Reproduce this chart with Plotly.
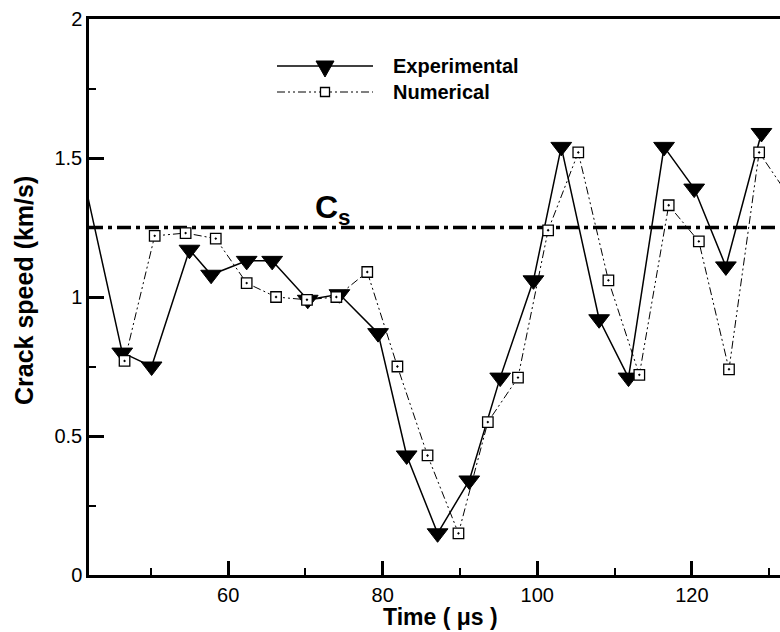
import plotly.graph_objects as go

# ---- data ----
exp_time = [40.5, 46.3, 50.1, 55.0, 57.8, 62.4, 65.7, 70.3, 74.4, 79.4, 83.1, 87.1,
            91.2, 95.2, 99.5, 103.1, 108.0, 111.8, 116.4, 120.3, 124.4, 129.0]
exp_speed = [1.53, 0.80, 0.75, 1.17, 1.08, 1.13, 1.13, 0.99, 1.01, 0.87, 0.43, 0.15,
             0.34, 0.71, 1.06, 1.54, 0.92, 0.71, 1.54, 1.39, 1.11, 1.59]

num_time = [46.6, 50.5, 54.5, 58.4, 62.4, 66.2, 70.2, 74.0, 78.0, 81.9, 85.8, 89.8,
            93.6, 97.5, 101.4, 105.3, 109.2, 113.2, 117.0, 120.9, 124.8, 128.7, 132.6]
num_speed = [0.77, 1.22, 1.23, 1.21, 1.05, 1.00, 0.99, 1.00, 1.09, 0.75, 0.43, 0.15,
             0.55, 0.71, 1.24, 1.52, 1.06, 0.72, 1.33, 1.20, 0.74, 1.52, 1.36]

cs_value = 1.25
x_range = [42, 131.4]
y_range = [0, 2]
x_ticks = [60, 80, 100, 120]
y_ticks = [0, 0.5, 1, 1.5, 2]
series_names = ["Experimental", "Numerical"]

FONT = "Liberation Sans, Arial, Helvetica, sans-serif"
NUM_DASH = "8px,3px,2px,3px,2px,3px"

# layout geometry (pixels)
W, H = 780, 632
L, T, B = 89, 19, 57
R = 0
PW = W - L - R
PH = H - T - B


def px(xp):
    return (xp - L) / PW


def py(yp):
    return (H - B - yp) / PH


fig = go.Figure()

fig.add_trace(go.Scatter(
    x=exp_time, y=exp_speed, mode="lines+markers", name=series_names[0],
    line=dict(color="black", width=1.5),
    marker=dict(symbol="triangle-down", size=18, color="black",
                line=dict(color="black", width=1)),
    showlegend=False,
))
fig.add_trace(go.Scatter(
    x=num_time, y=num_speed, mode="lines+markers", name=series_names[1],
    line=dict(color="black", width=1, dash=NUM_DASH),
    marker=dict(symbol="square-dot", size=10.5, color="white",
                line=dict(color="black", width=1.3)),
    showlegend=False,
))

shapes = []
# Cs reference line
shapes.append(dict(type="line", xref="paper", yref="y", x0=0, x1=1, y0=cs_value, y1=cs_value,
                   line=dict(color="black", width=3.5, dash="14px,5px,4px,5px"), layer="below"))

# manual legend
leg_x0, leg_x1, leg_mx = 277, 373, 325
leg_y = [66, 92]
shapes.append(dict(type="line", xref="paper", yref="paper",
                   x0=px(leg_x0), x1=px(leg_x1), y0=py(leg_y[0]), y1=py(leg_y[0]),
                   line=dict(color="black", width=1.5)))
shapes.append(dict(type="line", xref="paper", yref="paper",
                   x0=px(leg_x0), x1=px(leg_x1), y0=py(leg_y[1]), y1=py(leg_y[1]),
                   line=dict(color="black", width=1, dash=NUM_DASH)))
# triangle marker
tw = 9
shapes.append(dict(type="path", xref="paper", yref="paper",
                   path=f"M {px(leg_mx - tw)} {py(leg_y[0] - 5)} L {px(leg_mx + tw)} {py(leg_y[0] - 5)} "
                        f"L {px(leg_mx)} {py(leg_y[0] + 11)} Z",
                   fillcolor="black", line=dict(color="black", width=1)))
# square marker
sq = 4.5
shapes.append(dict(type="rect", xref="paper", yref="paper",
                   x0=px(leg_mx - sq), x1=px(leg_mx + sq), y0=py(leg_y[1] + sq), y1=py(leg_y[1] - sq),
                   fillcolor="white", line=dict(color="black", width=1.3)))

annotations = []
for name, yy in zip(series_names, leg_y):
    annotations.append(dict(text=f"<b>{name}</b>", xref="paper", yref="paper",
                            x=px(391), y=py(yy), xanchor="left", yanchor="middle",
                            showarrow=False, font=dict(family=FONT, size=20, color="black")))
# Cs label
annotations.append(dict(text="<b>C<sub>s</sub></b>", xref="paper", yref="paper",
                        x=px(333), y=py(210), xanchor="center", yanchor="middle",
                        showarrow=False, font=dict(family=FONT, size=32, color="black")))
# axis titles
annotations.append(dict(text="<b>Time ( μs )</b>", xref="paper", yref="paper",
                        x=px(440), y=py(617), xanchor="center", yanchor="middle",
                        showarrow=False, font=dict(family=FONT, size=23, color="black")))
annotations.append(dict(text="<b>Crack speed (km/s)</b>", xref="paper", yref="paper",
                        x=px(24), y=py(291), xanchor="center", yanchor="middle", textangle=-90,
                        showarrow=False, font=dict(family=FONT, size=25, color="black")))

fig.update_layout(
    width=W, height=H,
    margin=dict(l=L, r=R, t=T, b=B, pad=0),
    paper_bgcolor="white", plot_bgcolor="white",
    shapes=shapes, annotations=annotations,
    showlegend=False,
)

fig.update_xaxes(
    range=x_range, showline=True, linewidth=3, linecolor="black", mirror=True,
    ticks="inside", ticklen=14, tickwidth=3, tickcolor="black",
    tickvals=x_ticks, ticktext=[str(v) for v in x_ticks],
    showgrid=False, zeroline=False,
    tickfont=dict(family=FONT, size=20, color="black"),
    minor=dict(ticks="inside", ticklen=7, tickwidth=1.5, tickcolor="black", dtick=10, tick0=0, showgrid=False),
)
fig.update_yaxes(
    range=y_range, showline=True, linewidth=2.5, linecolor="black", mirror=False,
    ticks="inside", ticklen=15, tickwidth=3, tickcolor="black",
    tickvals=y_ticks, ticktext=["0", "0.5", "1", "1.5", "2"],
    showgrid=False, zeroline=False,
    tickfont=dict(family=FONT, size=20, color="black"),
    minor=dict(ticks="inside", ticklen=7, tickwidth=1.5, tickcolor="black", dtick=0.25, tick0=0, showgrid=False),
)

fig.write_html("out.html", config={"displayModeBar": False},
               post_script="document.body.style.margin='0';document.body.style.overflow='hidden';")
